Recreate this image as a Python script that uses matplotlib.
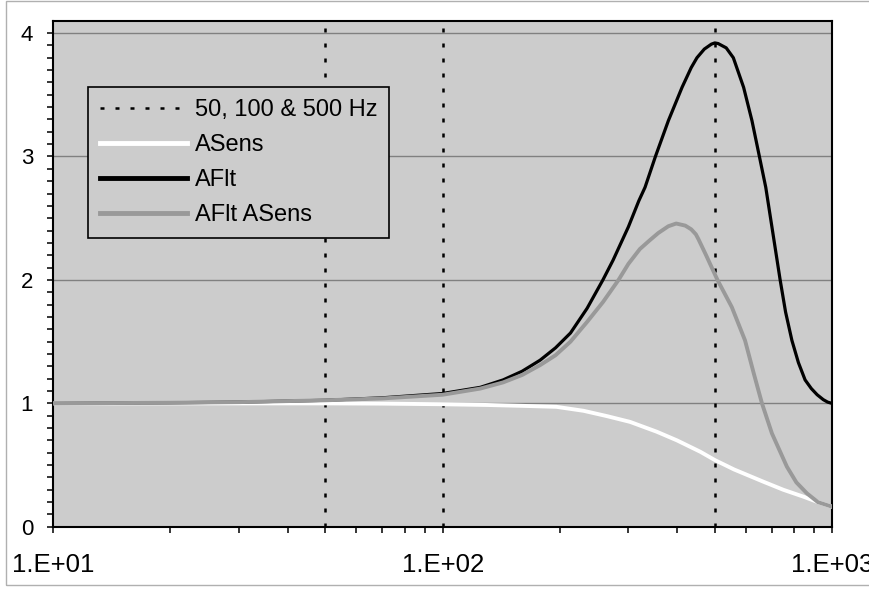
import numpy as np
import matplotlib.pyplot as plt
from matplotlib.ticker import FixedLocator, NullFormatter

plt.rcParams['font.family'] = ['Liberation Sans', 'DejaVu Sans']

# values
freq_asens = [10, 30, 50, 70, 100, 130, 160, 196, 230, 264, 303, 355, 400, 459,
              500, 560, 667, 750, 845, 920, 1000]
asens = [1.00, 1.00, 1.00, 0.998, 0.993, 0.987, 0.98, 0.972, 0.94, 0.897, 0.85,
         0.77, 0.70, 0.608, 0.541, 0.465, 0.365, 0.30, 0.244, 0.20, 0.163]

freq_aflt = [10, 20, 30, 50, 70, 100, 125, 143, 160, 178, 195, 213, 235, 258, 274,
             300, 319, 331, 352, 380, 412, 435, 450, 470, 490, 500, 510, 535, 558,
             593, 623, 651, 676, 701, 736, 760, 789, 820, 853, 885, 916, 950, 975, 1000]
aflt = [1.00, 1.005, 1.01, 1.025, 1.045, 1.08, 1.13, 1.19, 1.26, 1.35, 1.45, 1.57,
        1.77, 2.00, 2.16, 2.43, 2.64, 2.75, 3.00, 3.29, 3.56, 3.72, 3.80, 3.87,
        3.91, 3.92, 3.915, 3.88, 3.80, 3.56, 3.29, 3.00, 2.75, 2.43, 2.00, 1.74,
        1.51, 1.33, 1.19, 1.12, 1.07, 1.03, 1.01, 1.00]

freq_prod = [10, 20, 30, 50, 70, 100, 125, 143, 160, 178, 195, 213, 235, 258, 283,
             300, 321, 340, 358, 380, 398, 420, 435, 447, 454, 475, 508, 553, 598,
             630, 661, 701, 766, 810, 863, 920, 1000]
aflt_asens = [1.00, 1.005, 1.01, 1.025, 1.04, 1.07, 1.12, 1.17, 1.23, 1.31, 1.39,
              1.50, 1.66, 1.82, 2.00, 2.13, 2.25, 2.32, 2.38, 2.435, 2.457, 2.44,
              2.41, 2.37, 2.33, 2.20, 2.00, 1.78, 1.51, 1.24, 1.00, 0.757, 0.487,
              0.36, 0.27, 0.20, 0.163]

marker_freqs = [50, 100, 500]
xtick_labels = ['1.E+01', '1.E+02', '1.E+03']

fig = plt.figure(figsize=(8.69, 5.90), dpi=100)
ax = fig.add_axes([0.0613, 0.1071, 0.8961, 0.8578])
ax.set_facecolor('#cccccc')

# outer chart border
fig.patches.append(plt.Rectangle((0.007, 0.008), 1.2, 0.99, transform=fig.transFigure,
                                 fill=False, edgecolor='#b0b0b0', linewidth=1))

ax.set_xscale('log')
ax.set_xlim(10, 1000)
ax.set_ylim(0, 4.1)

for y in [1, 2, 3, 4]:
    ax.axhline(y, color='#808080', linewidth=1.0, zorder=1)

for i, f in enumerate(marker_freqs):
    ax.axvline(f, color='black', linewidth=1.8, dashes=(1.6, 4.4), zorder=2,
               label='50, 100 & 500 Hz' if i == 0 else None)

ax.plot(freq_asens, asens, color='white', linewidth=2.8, zorder=3, label='ASens')
ax.plot(freq_aflt, aflt, color='black', linewidth=2.3, zorder=4, label='AFlt')
ax.plot(freq_prod, aflt_asens, color='#999999', linewidth=2.8, zorder=5,
        label='AFlt ASens')

ax.xaxis.set_major_locator(FixedLocator([10, 100, 1000]))
ax.set_xticklabels(xtick_labels)
ax.xaxis.set_minor_locator(FixedLocator([k * 10 ** d for d in (1, 2) for k in range(2, 10)]))
ax.xaxis.set_minor_formatter(NullFormatter())
ax.set_yticks([0, 1, 2, 3, 4])
ax.set_yticks(np.arange(0, 4.1, 0.1), minor=True)

ax.tick_params(axis='x', which='both', direction='out', length=4.5, width=1.1,
               labelsize=18.5, pad=14)
ax.tick_params(axis='y', which='both', direction='out', length=4.5, width=1.1,
               labelsize=16, pad=10)

for s in ax.spines.values():
    s.set_linewidth(1.5)
    s.set_color('black')

leg = ax.legend(loc='upper left', bbox_to_anchor=(0.045, 0.8684), borderaxespad=0,
                fontsize=17, handlelength=3.7, handletextpad=0.3, labelspacing=0.55,
                borderpad=0.5, fancybox=False, framealpha=1, facecolor='#cccccc',
                edgecolor='black')
leg.get_frame().set_linewidth(1.2)
for line in leg.get_lines():
    if line.get_label() != '50, 100 & 500 Hz':
        line.set_linewidth(3.5)

fig.savefig('out.png', dpi=100)
